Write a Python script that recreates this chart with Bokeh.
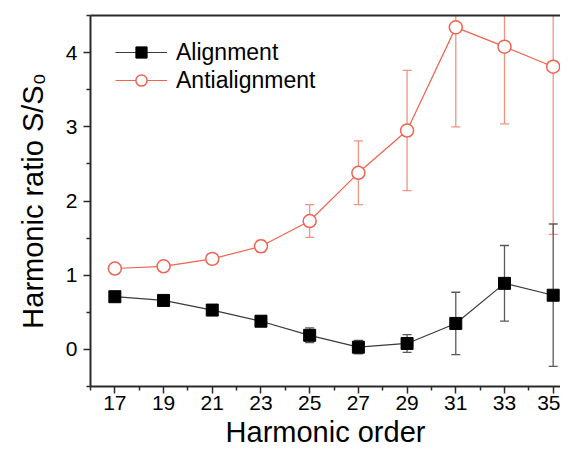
from bokeh.plotting import figure
from bokeh.models import (ColumnDataSource, Whisker, TeeHead, FixedTicker, LinearAxis,
                          Range1d, Legend, LegendItem)
from bokeh.embed import file_html
from bokeh.resources import INLINE

harmonic = [17, 19, 21, 23, 25, 27, 29, 31, 33, 35]
alignment = [0.71, 0.66, 0.53, 0.38, 0.19, 0.03, 0.08, 0.35, 0.89, 0.73]
alignment_err = [0.03, 0.03, 0.04, 0.07, 0.10, 0.09, 0.12, 0.42, 0.51, 0.96]
antialignment = [1.09, 1.12, 1.22, 1.39, 1.73, 2.38, 2.95, 4.34, 4.08, 3.81]
antialignment_err = [0.03, 0.04, 0.07, 0.08, 0.22, 0.43, 0.81, 1.34, 1.04, 2.26]
x_major = [17, 19, 21, 23, 25, 27, 29, 31, 33, 35]
x_minor = [16, 18, 20, 22, 24, 26, 28, 30, 32, 34, 36]
y_major = [0, 1, 2, 3, 4]
y_minor = [-0.5, 0.5, 1.5, 2.5, 3.5, 4.5]

FONT = "Liberation Sans"
RED = "#ef6350"
RED_ERR = "#f29382"
BLK_ERR = "#5a5a5a"

src_a = ColumnDataSource(dict(
    x=harmonic, y=alignment,
    lo=[v - e for v, e in zip(alignment, alignment_err)],
    hi=[v + e for v, e in zip(alignment, alignment_err)]))
src_b = ColumnDataSource(dict(
    x=harmonic, y=antialignment,
    lo=[v - e for v, e in zip(antialignment, antialignment_err)],
    hi=[v + e for v, e in zip(antialignment, antialignment_err)]))

p = figure(width=560, height=452, output_backend="svg", toolbar_location=None,
           x_range=Range1d(16, 35.3), y_range=Range1d(-0.5, 4.5),
           min_border_left=90, min_border_right=0, min_border_top=15, min_border_bottom=66)
p.outline_line_color = None
p.grid.visible = False
p.background_fill_color = "white"
p.border_fill_color = "white"

# error bars
for src, col in ((src_b, RED_ERR), (src_a, BLK_ERR)):
    w = Whisker(source=src, base="x", lower="lo", upper="hi", dimension="height",
                line_color=col, line_width=1.3,
                lower_head=TeeHead(size=9, line_color=col, line_width=1.3),
                upper_head=TeeHead(size=9, line_color=col, line_width=1.3))
    p.add_layout(w)

la = p.line("x", "y", source=src_a, line_color="#3a3a3a", line_width=1.2)
sa = p.scatter("x", "y", source=src_a, marker="square", size=12,
               fill_color="black", line_color="black")
lb = p.line("x", "y", source=src_b, line_color=RED, line_width=1.2)
sb = p.scatter("x", "y", source=src_b, marker="circle", size=13,
               fill_color="white", line_color=RED, line_width=1.5)

legend = Legend(items=[LegendItem(label="Alignment", renderers=[la, sa]),
                       LegendItem(label="Antialignment", renderers=[lb, sb])],
                location=(25, 292), border_line_color=None, background_fill_alpha=0,
                padding=0, margin=0, spacing=0, glyph_width=52, glyph_height=28,
                label_height=28, label_standoff=9,
                label_text_font=FONT, label_text_font_size="23px", label_text_color="black")
p.add_layout(legend)

# axes
xa = p.xaxis[0]
xa.ticker = FixedTicker(ticks=x_major, minor_ticks=x_minor)
xa.axis_label = "Harmonic order"
ya = p.yaxis[0]
ya.ticker = FixedTicker(ticks=y_major, minor_ticks=y_minor)
ya.axis_label = "Harmonic ratio S/S\u2080"
for ax in (xa, ya):
    ax.axis_line_width = 2
    ax.axis_line_color = "#2a2a2a"
    ax.major_tick_line_color = "#2a2a2a"
    ax.minor_tick_line_color = "#2a2a2a"
    ax.major_tick_line_width = 1.5
    ax.minor_tick_line_width = 1.5
    ax.major_tick_out = 7
    ax.major_tick_in = 0
    ax.minor_tick_out = 4
    ax.minor_tick_in = 0
    ax.major_label_text_font = FONT
    ax.major_label_text_font_size = "21px"
    ax.major_label_text_color = "black"
    ax.axis_label_text_font = FONT
    ax.axis_label_text_font_size = "29px"
    ax.axis_label_text_font_style = "normal"
    ax.axis_label_text_color = "black"
xa.major_label_standoff = 2
xa.axis_label_standoff = 3
ya.major_label_standoff = 6
ya.axis_label_standoff = 14

top = LinearAxis(ticker=FixedTicker(ticks=[]), major_label_text_font_size="0px",
                 axis_line_width=2, axis_line_color="#2a2a2a",
                 major_tick_out=0, minor_tick_out=0, major_label_standoff=0,
                 axis_label_standoff=0)
p.add_layout(top, "above")

open("out.html", "w").write(file_html(p, INLINE))
